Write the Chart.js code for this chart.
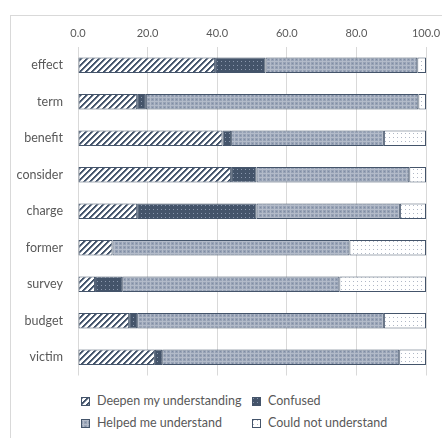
<!DOCTYPE html>
<html>
<head>
    <title>Understanding by word</title>
    <style>
        body { margin: 0; background: #fff; font-family: Lato, "Open Sans", sans-serif; }
        #wrap { position: relative; width: 442px; height: 438px; overflow: hidden; }
        #frame { position: absolute; left: 10px; top: 15px; width: 460px; height: 460px; border: 1px solid #d9d9d9; }
        #chartBox { position: absolute; left: 0; top: 0; width: 442px; height: 390px; }
        .leg { position: absolute; font-size: 12.5px; color: #595959; white-space: nowrap; line-height: 14px; }
        .leg canvas { position: absolute; left: -16px; top: 3px; }
    </style>
</head>
<body>
<div id="wrap">
    <div id="frame"></div>
    <div id="chartBox"><canvas id="barChart" width="442" height="390"></canvas></div>
    <div class="leg" style="left:97px; top:394px;"><canvas id="sw0" width="9" height="9"></canvas>Deepen my understanding</div>
    <div class="leg" style="left:268px; top:394px;"><canvas id="sw1" width="9" height="9"></canvas>Confused</div>
    <div class="leg" style="left:97px; top:416px;"><canvas id="sw2" width="9" height="9"></canvas>Helped me understand</div>
    <div class="leg" style="left:268px; top:416px;"><canvas id="sw3" width="9" height="9"></canvas>Could not understand</div>
</div>

<script src="https://cdn.jsdelivr.net/npm/chart.js"></script>
<script>
    // values (percent)
    var categories = ['effect', 'term', 'benefit', 'consider', 'charge', 'former', 'survey', 'budget', 'victim'];
    var deepen   = [39.4, 17.0, 41.5, 44.0, 17.0,  9.9,  4.9, 14.7, 22.1];
    var confused = [14.5,  2.5,  2.5,  7.3, 34.3,  0.0,  7.8,  2.3,  2.1];
    var helped   = [43.6, 78.3, 43.9, 43.9, 41.2, 68.1, 62.4, 70.9, 68.1];
    var couldNot = [ 2.5,  2.2, 12.1,  4.8,  7.5, 22.0, 24.9, 12.1,  7.7];
    var seriesNames = ['Deepen my understanding', 'Confused', 'Helped me understand', 'Could not understand'];
    var xTicks = [0, 20, 40, 60, 80, 100];

    var navy = '#44546a';

    function makeTile(kind) {
        var c = document.createElement('canvas');
        var g = c.getContext('2d');
        if (kind === 0) {
            // wide upward diagonal, drawn pixel by pixel so the tile joins cleanly
            c.width = 6; c.height = 6;
            g = c.getContext('2d');
            for (var y = 0; y < 6; y++) {
                for (var x = 0; x < 6; x++) {
                    var k = (x + y) % 6;
                    g.fillStyle = k < 2 ? navy : (k === 2 ? '#8f9aab' : '#fff');
                    g.fillRect(x, y, 1, 1);
                }
            }
        } else if (kind === 1) {
            c.width = 4; c.height = 4;
            g = c.getContext('2d');
            g.fillStyle = navy; g.fillRect(0, 0, 4, 4);
            g.fillStyle = '#8a97ad'; g.fillRect(1, 1, 1, 1);
        } else if (kind === 2) {
            c.width = 4; c.height = 4;
            g = c.getContext('2d');
            g.fillStyle = '#97a2b5'; g.fillRect(0, 0, 4, 4);
            g.fillStyle = '#b3bbc9'; g.fillRect(0, 1, 4, 1); g.fillRect(2, 0, 1, 4);
            g.fillStyle = '#7f8ca3'; g.fillRect(0, 3, 1, 1);
        } else {
            c.width = 4; c.height = 4;
            g = c.getContext('2d');
            g.fillStyle = '#fff'; g.fillRect(0, 0, 4, 4);
            g.fillStyle = '#b0b8c6'; g.fillRect(1, 1, 1, 1);
        }
        return c;
    }

    var ctx = document.getElementById('barChart').getContext('2d');
    var patterns = [0, 1, 2, 3].map(function (k) { return ctx.createPattern(makeTile(k), 'repeat'); });

    // legend swatches
    [0, 1, 2, 3].forEach(function (k) {
        var s = document.getElementById('sw' + k).getContext('2d');
        s.fillStyle = s.createPattern(makeTile(k), 'repeat');
        s.fillRect(0, 0, 9, 9);
        s.strokeStyle = navy; s.lineWidth = 1;
        s.strokeRect(0.5, 0.5, 8, 8);
    });

    var allData = [deepen, confused, helped, couldNot];

    new Chart(ctx, {
        type: 'bar',
        data: {
            labels: categories,
            datasets: allData.map(function (d, i) {
                return {
                    label: seriesNames[i],
                    data: d,
                    backgroundColor: patterns[i],
                    borderColor: navy,
                    borderWidth: 1,
                    borderSkipped: false,
                    barPercentage: 0.42,
                    categoryPercentage: 1
                };
            })
        },
        options: {
            indexAxis: 'y',
            responsive: false,
            animation: false,
            layout: { padding: { left: 0, right: 16, top: 0, bottom: 4 } },
            plugins: { legend: { display: false }, tooltip: { enabled: false } },
            scales: {
                x: {
                    position: 'top',
                    stacked: true,
                    min: 0, max: 100,
                    afterBuildTicks: function (axis) {
                        axis.ticks = xTicks.map(function (v) { return { value: v }; });
                    },
                    afterFit: function (axis) {
                        axis.height = 47;
                        axis.paddingLeft = 0;
                        axis.paddingRight = 0;
                    },
                    grid: { color: '#d9d9d9', drawTicks: false },
                    border: { display: false },
                    ticks: {
                        padding: 7,
                        color: '#595959',
                        font: { family: 'Lato', size: 11 },
                        callback: function (v) { return Number(v).toFixed(1); }
                    }
                },
                y: {
                    stacked: true,
                    afterFit: function (axis) { axis.width = 78; },
                    grid: { display: false },
                    border: { display: false },
                    ticks: {
                        padding: 7,
                        color: '#595959',
                        font: { family: 'Lato', size: 12.5 }
                    }
                }
            }
        }
    });
</script>
</body>
</html>
